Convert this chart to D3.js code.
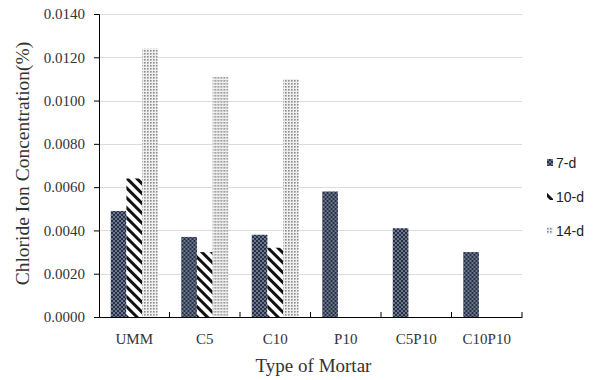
<!DOCTYPE html>
<meta charset="utf-8">
<title>Chloride Ion Concentration</title>
<style>
body { margin: 0; background: #fff; }
svg { display: block; }
.tick text { font-family: "Liberation Serif", "Times New Roman", serif; font-size: 15px; fill: #333; }
</style>
<svg width="596" height="380"></svg>
<script src="https://d3js.org/d3.v7.min.js"></script>
<script>
// categories and series
var mortars = ["UMM", "C5", "C10", "P10", "C5P10", "C10P10"];
var ages = ["7-d", "10-d", "14-d"];
var day7 = [0.0049, 0.0037, 0.0038, 0.0058, 0.0041, 0.0030];
var day10 = [0.0064, 0.0030, 0.0032, null, null, null];
var day14 = [0.0124, 0.0111, 0.0110, null, null, null];
var yTicks = [0, 0.002, 0.004, 0.006, 0.008, 0.010, 0.012, 0.014];

var series = [day7, day10, day14];

var svg = d3.select("svg");
var margin = {left: 99, right: 74, top: 14, bottom: 63};
var width = +svg.attr("width") - margin.left - margin.right;
var height = +svg.attr("height") - margin.top - margin.bottom;

// fill patterns for the three ages
var defs = svg.append("defs");

var p7 = defs.append("pattern").attr("id", "p7")
    .attr("patternUnits", "userSpaceOnUse").attr("width", 4).attr("height", 4);
p7.append("rect").attr("width", 4).attr("height", 4).attr("fill", "#243047");
p7.append("circle").attr("cx", 1).attr("cy", 1).attr("r", 0.8).attr("fill", "#c9d1dd");
p7.append("circle").attr("cx", 3).attr("cy", 3).attr("r", 0.8).attr("fill", "#c9d1dd");

var p10 = defs.append("pattern").attr("id", "p10")
    .attr("patternUnits", "userSpaceOnUse").attr("width", 7).attr("height", 7)
    .attr("patternTransform", "rotate(-45)");
p10.append("rect").attr("width", 7).attr("height", 7).attr("fill", "#fff");
p10.append("rect").attr("width", 3).attr("height", 7).attr("fill", "#111");

var p14 = defs.append("pattern").attr("id", "p14")
    .attr("patternUnits", "userSpaceOnUse").attr("width", 3).attr("height", 3);
p14.append("rect").attr("width", 3).attr("height", 3).attr("fill", "#efefef");
p14.append("rect").attr("width", 1.6).attr("height", 1.6).attr("fill", "#8c8c8c");

var fills = ["url(#p7)", "url(#p10)", "url(#p14)"];

var g = svg.append("g").attr("transform", "translate(" + margin.left + "," + margin.top + ")");

var x0 = d3.scaleBand().domain(mortars).range([0, width]).paddingInner(0).paddingOuter(0);
var x1 = d3.scaleBand().domain(d3.range(ages.length)).range([0, x0.bandwidth()])
    .paddingInner(0).paddingOuter(0.75);
var y = d3.scaleLinear().domain([0, 0.014]).range([height, 0]);

// gridlines
g.append("g").selectAll("line")
  .data(yTicks.slice(1))
  .enter().append("line")
    .attr("x1", 0).attr("x2", width)
    .attr("y1", function(d) { return Math.round(y(d)) + 0.5; })
    .attr("y2", function(d) { return Math.round(y(d)) + 0.5; })
    .attr("stroke", "#dcdcdc");

// bars
var groups = g.selectAll(".grp")
  .data(mortars)
  .enter().append("g")
    .attr("class", "grp")
    .attr("transform", function(d) { return "translate(" + x0(d) + ",0)"; });

groups.selectAll("rect")
  .data(function(d, i) {
    return series.map(function(s, k) { return {k: k, v: s[i]}; }).filter(function(e) { return e.v != null; });
  })
  .enter().append("rect")
    .attr("x", function(d) { return x1(d.k); })
    .attr("width", x1.bandwidth())
    .attr("y", function(d) { return y(d.v); })
    .attr("height", function(d) { return height - y(d.v); })
    .attr("fill", function(d) { return fills[d.k]; });

// y axis
var yAxis = g.append("g")
    .call(d3.axisLeft(y).tickValues(yTicks).tickFormat(d3.format(".4f")).tickSize(5).tickPadding(9));
yAxis.select(".domain").attr("stroke", "#000");
yAxis.selectAll(".tick line").attr("stroke", "#000");

// x axis with ticks between categories
var xAxis = g.append("g").attr("transform", "translate(0," + height + ")")
    .call(d3.axisBottom(x0).tickSize(0).tickPadding(16));
xAxis.select(".domain").attr("stroke", "#000");
xAxis.selectAll(".tick text").attr("dy", "0.71em");
xAxis.append("g").selectAll("line")
  .data(mortars)
  .enter().append("line")
    .attr("x1", function(d) { return x0(d) + x0.bandwidth(); })
    .attr("x2", function(d) { return x0(d) + x0.bandwidth(); })
    .attr("y1", 0).attr("y2", -5)
    .attr("stroke", "#000");

// axis titles
svg.append("text")
    .attr("transform", "translate(22," + (margin.top + height / 2 - 2) + ") rotate(-90)")
    .attr("text-anchor", "middle")
    .attr("dy", "0.35em")
    .style("font-family", "Liberation Serif, Times New Roman, serif")
    .style("font-size", "19.5px")
    .style("fill", "#333")
    .text("Chloride Ion Concentration(%)");

svg.append("text")
    .attr("x", margin.left + width / 2 + 3)
    .attr("y", 372)
    .attr("text-anchor", "middle")
    .style("font-family", "Liberation Serif, Times New Roman, serif")
    .style("font-size", "19px")
    .style("fill", "#333")
    .text("Type of Mortar");

// legend
var legend = svg.append("g").attr("transform", "translate(547,163)");
var items = legend.selectAll("g")
  .data(ages)
  .enter().append("g")
    .attr("transform", function(d, i) { return "translate(0," + (i * 34) + ")"; });
items.append("rect")
    .attr("x", 0).attr("y", -4).attr("width", 6).attr("height", 7)
    .attr("fill", function(d, i) { return fills[i]; });
items.append("text")
    .attr("x", 9).attr("dy", "0.35em")
    .style("font-family", "Liberation Sans, Arial, sans-serif")
    .style("font-size", "14px")
    .style("fill", "#222")
    .text(function(d) { return d; });
</script>
